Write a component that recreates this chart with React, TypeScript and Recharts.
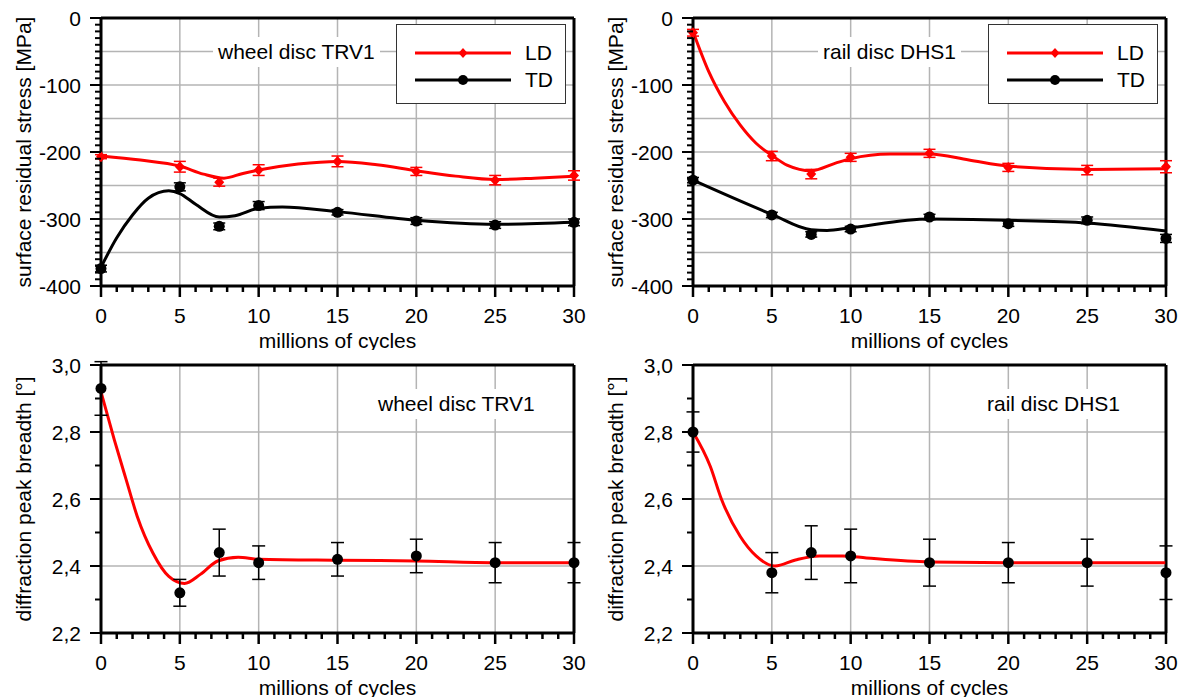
import React from "react";
import {
  CartesianGrid,
  ComposedChart,
  ErrorBar,
  Legend,
  Line,
  ReferenceLine,
  Scatter,
  XAxis,
  YAxis,
} from "recharts";

const FONT = '"Liberation Sans", Arial, sans-serif';

// measured positions (millions of cycles)
const cycles = [0, 5, 7.5, 10, 15, 20, 25, 30];

// surface residual stress [MPa], wheel disc TRV1
const wheelLD = [-207, -222, -245, -227, -214, -229, -242, -235];
const wheelLDErr = [3, 8, 6, 8, 8, 6, 7, 7];
const wheelTD = [-374, -252, -311, -280, -290, -303, -309, -305];
const wheelTDErr = [5, 6, 5, 6, 4, 5, 5, 5];
const wheelLDFitX = [0, 2.5, 5, 6.5, 7.8, 9, 10, 12.5, 15, 17.5, 20, 22.5, 25, 27.5, 30];
const wheelLDFitY = [-206, -212, -221, -233, -239, -232, -227, -218, -214, -219, -228, -236, -241, -239, -236];
const wheelTDFitX = [0, 1, 2, 3, 4.3, 5, 6, 7.5, 8.5, 10, 11.5, 15, 20, 25, 30];
const wheelTDFitY = [-372, -328, -294, -269, -258, -262, -278, -297, -295, -284, -282, -289, -302, -308, -305];

// surface residual stress [MPa], rail disc DHS1
const railLD = [-22, -206, -233, -208, -202, -223, -227, -222];
const railLDErr = [5, 7, 7, 6, 6, 6, 7, 9];
const railTD = [-242, -294, -323, -315, -297, -307, -302, -329];
const railTDErr = [4, 4, 4, 4, 4, 4, 5, 6];
const railLDFitX = [0, 1, 2, 3, 4, 5, 6, 7.5, 9, 10, 12.5, 15, 17.5, 20, 25, 30];
const railLDFitY = [-20, -80, -125, -160, -187, -205, -220, -228, -217, -210, -203, -203, -212, -221, -226, -225];
const railTDFitX = [0, 5, 7.5, 8.5, 10, 15, 20, 25, 30];
const railTDFitY = [-242, -293, -316, -317, -313, -300, -302, -306, -318];

// diffraction peak breadth [°]
const wheelBreadth = [2.93, 2.32, 2.44, 2.41, 2.42, 2.43, 2.41, 2.41];
const wheelBreadthErr = [0.08, 0.04, 0.07, 0.05, 0.05, 0.05, 0.06, 0.06];
const wheelBreadthFitX = [0, 0.85, 1.6, 2.3, 3.3, 4.3, 5.3, 6.3, 7.4, 8.7, 10, 15, 20, 25, 30];
const wheelBreadthFitY = [2.92, 2.776, 2.657, 2.548, 2.438, 2.369, 2.348, 2.375, 2.415, 2.426, 2.42, 2.417, 2.415, 2.41, 2.41];
const railBreadth = [2.8, 2.38, 2.44, 2.43, 2.41, 2.41, 2.41, 2.38];
const railBreadthErr = [0.06, 0.06, 0.08, 0.08, 0.07, 0.06, 0.07, 0.08];
const railBreadthFitX = [0, 1.1, 1.8, 3, 4, 5.2, 6.5, 8, 9.5, 11, 15, 20, 30];
const railBreadthFitY = [2.8, 2.697, 2.6, 2.488, 2.43, 2.4, 2.418, 2.43, 2.43, 2.424, 2.412, 2.41, 2.41];

// axes
const xMajor = [0, 5, 10, 15, 20, 25, 30];
const xMinor = Array.from({ length: 31 }, (_, i) => i);
const stressMajor = [-400, -300, -200, -100, 0];
const stressMinor = Array.from({ length: 41 }, (_, i) => -400 + i * 10);
const stressGrid = [-400, -350, -300, -250, -200, -150, -100, -50, 0];
const breadthMajor = [2.2, 2.4, 2.6, 2.8, 3.0];
const breadthMinor = [2.2, 2.3, 2.4, 2.5, 2.6, 2.7, 2.8, 2.9, 3.0];

const legendNames = ["LD", "TD"];

type Pt = { x: number; y: number; err?: number };
const toPts = (xs: number[], ys: number[], es?: number[]): Pt[] =>
  xs.map((x, i) => ({ x, y: ys[i], err: es ? es[i] : undefined }));

const Circle = (p: any) => <circle cx={p.cx} cy={p.cy} r={5.5} fill="#000" />;
const Diamond = (p: any) => (
  <polygon
    points={`${p.cx},${p.cy - 5.5} ${p.cx + 5},${p.cy} ${p.cx},${p.cy + 5.5} ${p.cx - 5},${p.cy}`}
    fill="#ff0000"
  />
);
const Nothing = () => <g />;

interface SeriesDef {
  points: Pt[];
  fit: Pt[];
  marker: "circle" | "diamond";
  errColor: string;
  fitColor: string;
}

interface PanelProps {
  left: number;
  top: number;
  yDomain: [number, number];
  yTicks: number[];
  yMajor: number[];
  yGrid: number[];
  fmt: (v: number) => string;
  yTitle: string;
  series: SeriesDef[];
  note: string;
  noteLeft: number;
  noteTop: number;
  legend?: boolean;
  capWidth: number;
}

const XTick = (props: any) => {
  const { x, y, payload } = props;
  const major = xMajor.includes(payload.value);
  return (
    <g>
      <line x1={x} x2={x} y1={y} y2={y + (major ? 11 : 6)} stroke="#000" strokeWidth={2.5} />
      {major && (
        <text x={x} y={y + 29} textAnchor="middle" dominantBaseline="central" fontSize={21} fill="#000" style={{ fontFamily: FONT }}>
          {payload.value}
        </text>
      )}
    </g>
  );
};

const makeYTick = (majors: number[], fmt: (v: number) => string) => (props: any) => {
  const { x, y, payload } = props;
  const major = majors.includes(payload.value);
  return (
    <g>
      <line x1={x - (major ? 11 : 6)} x2={x} y1={y} y2={y} stroke="#000" strokeWidth={2} />
      {major && (
        <text x={x - 20} y={y} textAnchor="end" dominantBaseline="central" fontSize={21} fill="#000" style={{ fontFamily: FONT }}>
          {fmt(payload.value)}
        </text>
      )}
    </g>
  );
};

const LegendBox = () => (
  <div
    style={{
      width: 170,
      height: 80,
      border: "1.5px solid #333",
      background: "#fff",
      boxSizing: "border-box",
      paddingTop: 14,
      fontFamily: FONT,
      fontSize: 21,
    }}
  >
    {legendNames.map((name, i) => (
      <div key={name} style={{ display: "flex", alignItems: "center", height: 27 }}>
        <svg width={116} height={14} style={{ marginLeft: 18 }}>
          <line x1={0} x2={96} y1={7} y2={7} stroke={i === 0 ? "#ff0000" : "#000"} strokeWidth={3} />
          {i === 0 ? (
            <polygon points="48,2 52.5,7 48,12 43.5,7" fill="#ff0000" />
          ) : (
            <circle cx={48} cy={7} r={5} fill="#000" />
          )}
        </svg>
        <span style={{ marginLeft: -6, color: "#000" }}>{name}</span>
      </div>
    ))}
  </div>
);

function Panel(p: PanelProps) {
  const YTick = makeYTick(p.yMajor, p.fmt);
  return (
    <div style={{ position: "absolute", left: p.left, top: p.top, width: 592, height: 350 }}>
      <ComposedChart width={592} height={350} margin={{ top: 18, right: 18, left: 21, bottom: 14 }}>
        <CartesianGrid stroke="#b4b4b4" strokeWidth={1.5} horizontalValues={p.yGrid} verticalValues={xMajor} />
        <XAxis
          dataKey="x"
          type="number"
          domain={[0, 30]}
          ticks={xMinor}
          interval={0}
          tickSize={0}
          tickMargin={0}
          tickLine={false}
          axisLine={{ stroke: "#000", strokeWidth: 3 }}
          tick={(t: any) => <XTick {...t} />}
          height={50}
          label={(lp: any) => {
            const vb = lp.viewBox;
            return (
              <text x={vb.x + vb.width / 2} y={vb.y + 54} textAnchor="middle" dominantBaseline="central" fontSize={21} fill="#000" style={{ fontFamily: FONT }}>
                millions of cycles
              </text>
            );
          }}
        />
        <YAxis
          dataKey="y"
          type="number"
          domain={p.yDomain}
          ticks={p.yTicks}
          interval={0}
          tickSize={0}
          tickMargin={0}
          tickLine={false}
          axisLine={{ stroke: "#000", strokeWidth: 3 }}
          tick={(t: any) => <YTick {...t} />}
          width={80}
          label={(lp: any) => {
            const vb = lp.viewBox;
            const cx = vb.x + vb.width - 78;
            const cy = vb.y + vb.height / 2;
            return (
              <text x={cx} y={cy} transform={`rotate(-90 ${cx} ${cy})`} textAnchor="middle" dominantBaseline="central" fontSize={21} fill="#000" style={{ fontFamily: FONT }}>
                {p.yTitle}
              </text>
            );
          }}
        />
        <XAxis xAxisId="e" dataKey="x" type="number" domain={[0, 30]} hide allowDataOverflow />
        <YAxis yAxisId="e" dataKey="y" type="number" domain={p.yDomain} hide allowDataOverflow />
        <ReferenceLine y={p.yDomain[1]} stroke="#000" strokeWidth={3} />
        <ReferenceLine x={30} stroke="#000" strokeWidth={3} />
        {p.series.map((s, i) => (
          <Line
            key={`fit${i}`}
            data={s.fit}
            dataKey="y"
            type="monotone"
            stroke={s.fitColor}
            strokeWidth={3}
            dot={false}
            activeDot={false}
            isAnimationActive={false}
          />
        ))}
        {p.series.map((s, i) => (
          <Scatter key={`err${i}`} data={s.points} xAxisId="e" yAxisId="e" shape={Nothing} isAnimationActive={false}>
            <ErrorBar dataKey="err" direction="y" width={p.capWidth} stroke={s.errColor} strokeWidth={1.5} />
          </Scatter>
        ))}
        {p.series.map((s, i) => (
          <Scatter
            key={`pt${i}`}
            data={s.points}
            shape={s.marker === "circle" ? Circle : Diamond}
            isAnimationActive={false}
          />
        ))}
        {p.legend && (
          <Legend
            layout="vertical"
            align="center"
            verticalAlign="middle"
            wrapperStyle={{ left: 396, top: 24, width: 170, height: 80 }}
            content={() => <LegendBox />}
          />
        )}
      </ComposedChart>
      <div
        style={{
          position: "absolute",
          left: p.noteLeft,
          top: p.noteTop,
          background: "#fff",
          padding: "3px 5px",
          fontFamily: FONT,
          fontSize: 21,
          lineHeight: "24px",
          color: "#000",
          whiteSpace: "nowrap",
        }}
      >
        {p.note}
      </div>
    </div>
  );
}

const fmtStress = (v: number) => String(v);
const fmtBreadth = (v: number) => v.toFixed(1).replace(".", ",");

export default function App() {
  return (
    <div style={{ position: "absolute", left: 0, top: 0, width: 1184, height: 697, background: "#fff" }}>
      <Panel
        left={0}
        top={0}
        yDomain={[-400, 0]}
        yTicks={stressMinor}
        yMajor={stressMajor}
        yGrid={stressGrid}
        fmt={fmtStress}
        yTitle="surface residual stress [MPa]"
        note="wheel disc TRV1"
        noteLeft={213}
        noteTop={37}
        legend
        capWidth={6}
        series={[
          { points: toPts(cycles, wheelLD, wheelLDErr), fit: toPts(wheelLDFitX, wheelLDFitY), marker: "diamond", errColor: "#ff0000", fitColor: "#ff0000" },
          { points: toPts(cycles, wheelTD, wheelTDErr), fit: toPts(wheelTDFitX, wheelTDFitY), marker: "circle", errColor: "#000", fitColor: "#000" },
        ]}
      />
      <Panel
        left={592}
        top={0}
        yDomain={[-400, 0]}
        yTicks={stressMinor}
        yMajor={stressMajor}
        yGrid={stressGrid}
        fmt={fmtStress}
        yTitle="surface residual stress [MPa]"
        note="rail disc DHS1"
        noteLeft={226}
        noteTop={37}
        legend
        capWidth={6}
        series={[
          { points: toPts(cycles, railLD, railLDErr), fit: toPts(railLDFitX, railLDFitY), marker: "diamond", errColor: "#ff0000", fitColor: "#ff0000" },
          { points: toPts(cycles, railTD, railTDErr), fit: toPts(railTDFitX, railTDFitY), marker: "circle", errColor: "#000", fitColor: "#000" },
        ]}
      />
      <Panel
        left={0}
        top={347}
        yDomain={[2.2, 3.0]}
        yTicks={breadthMinor}
        yMajor={breadthMajor}
        yGrid={breadthMajor}
        fmt={fmtBreadth}
        yTitle="diffraction peak breadth [°]"
        note="wheel disc TRV1"
        noteLeft={373}
        noteTop={42}
        capWidth={6.5}
        series={[
          { points: toPts(cycles, wheelBreadth, wheelBreadthErr), fit: toPts(wheelBreadthFitX, wheelBreadthFitY), marker: "circle", errColor: "#000", fitColor: "#ff0000" },
        ]}
      />
      <Panel
        left={592}
        top={347}
        yDomain={[2.2, 3.0]}
        yTicks={breadthMinor}
        yMajor={breadthMajor}
        yGrid={breadthMajor}
        fmt={fmtBreadth}
        yTitle="diffraction peak breadth [°]"
        note="rail disc DHS1"
        noteLeft={390}
        noteTop={42}
        capWidth={6.5}
        series={[
          { points: toPts(cycles, railBreadth, railBreadthErr), fit: toPts(railBreadthFitX, railBreadthFitY), marker: "circle", errColor: "#000", fitColor: "#ff0000" },
        ]}
      />
    </div>
  );
}
